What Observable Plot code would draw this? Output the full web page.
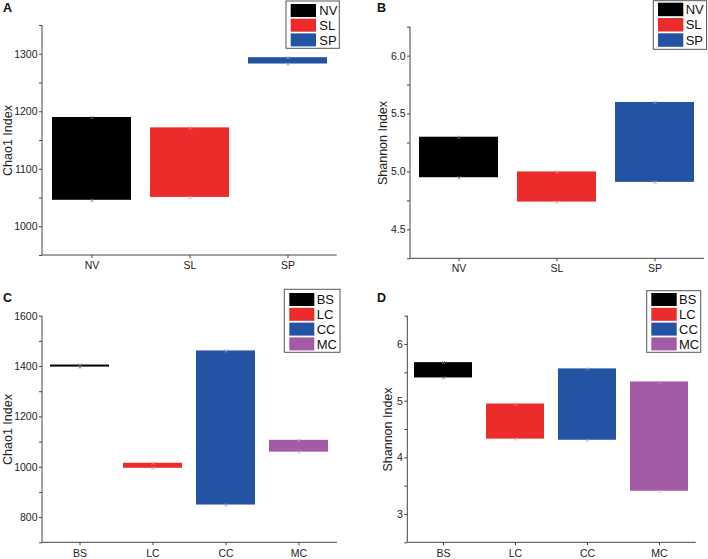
<!DOCTYPE html>
<html><head><meta charset="utf-8">
<script src="https://cdn.jsdelivr.net/npm/d3@7"></script>
<script src="https://cdn.jsdelivr.net/npm/@observablehq/plot@0.6"></script>
<style>
body{margin:0;background:#fff;font-family:"Liberation Sans",Arial,sans-serif;}
#wrap{position:relative;width:708px;height:559px;overflow:hidden;background:#fff;}
.panel{position:absolute;}
#tags{position:absolute;left:0;top:0;}
</style></head><body><div id="wrap"></div>
<script>
// ---- data ----
const groupsTop = ["NV", "SL", "SP"];
const colorsTop = ["#000000", "#ec2b2b", "#2553a3"];
const chaoTopLow = [1046, 1051, 1283];
const chaoTopHigh = [1190, 1172, 1294];
const shanTopLow = [4.95, 4.74, 4.91];
const shanTopHigh = [5.30, 5.00, 5.60];

const groupsBot = ["BS", "LC", "CC", "MC"];
const colorsBot = ["#000000", "#ec2b2b", "#2553a3", "#a35ba5"];
const chaoBotLow = [1398, 996, 850, 1060];
const chaoBotHigh = [1406, 1016, 1462, 1107];
const shanBotLow = [5.41, 4.33, 4.31, 3.41];
const shanBotHigh = [5.68, 4.95, 5.57, 5.34];

const ticksA = [1000, 1100, 1200, 1300];
const minorA = [950, 1050, 1150, 1250, 1350];
const ticksB = [4.5, 5.0, 5.5, 6.0];
const minorB = [4.25, 4.75, 5.25, 5.75, 6.25];
const ticksC = [800, 1000, 1200, 1400, 1600];
const minorC = [700, 900, 1100, 1300, 1500];
const ticksD = [3, 4, 5, 6];
const minorD = [2.5, 3.5, 4.5, 5.5, 6.5];

const titleChao = "Chao1 Index";
const titleShannon = "Shannon Index";
const panelTags = ["A", "B", "C", "D"];

const FONT = '"Liberation Sans", Arial, sans-serif';
const AXIS = "#444";

function panel(cfg) {
  const rows = cfg.groups.map((g, i) => ({g, lo: cfg.low[i], hi: cfg.high[i]}));
  const caps = rows.flatMap(r => [{g: r.g, v: r.lo}, {g: r.g, v: r.hi}]);
  const light = cfg.colors.map(c => d3.interpolateRgb(c, "#ffffff")(0.45));
  const chart = Plot.plot({
    width: 354, height: cfg.height,
    marginLeft: cfg.ml, marginRight: cfg.mr, marginTop: cfg.mt, marginBottom: cfg.mb,
    style: {fontFamily: FONT, background: "transparent", color: "#222", overflow: "visible"},
    x: {type: "band", domain: cfg.groups, paddingInner: 0.19, paddingOuter: 0.095, axis: null},
    y: {domain: cfg.domain, axis: null},
    color: {domain: cfg.groups, range: cfg.colors},
    marks: [
      Plot.barY(rows, {x: "g", y1: "lo", y2: "hi", fill: "g"}),
      Plot.dot(caps, {x: "g", y: "v", symbol: "times", r: 1.6, strokeWidth: 0.8,
        stroke: d => light[cfg.groups.indexOf(d.g)]}),
      Plot.axisY({ticks: cfg.ticks, tickFormat: cfg.fmt, tickSize: 3, tickPadding: 2,
        fontSize: 10.5, stroke: AXIS, label: null}),
      Plot.axisY({ticks: cfg.minor, tickSize: 3, text: null, stroke: AXIS, label: null}),
      Plot.axisX({tickSize: 3, tickPadding: cfg.xpad, fontSize: 10.5, stroke: AXIS, label: null}),
      Plot.text([cfg.title], {text: d => d, frameAnchor: "left", rotate: -90, dx: cfg.titleDx,
        fontSize: 12.5, textAnchor: "middle", lineAnchor: "middle", fill: "#222"})
    ]
  });
  const svg = d3.select(chart);
  const xr = chart.scale("x").range, yr = chart.scale("y").range;
  svg.append("line").attr("x1", xr[0]).attr("x2", xr[0]).attr("y1", yr[0]).attr("y2", yr[1])
    .attr("stroke", AXIS).attr("stroke-width", 1);
  svg.append("line").attr("x1", xr[0]).attr("x2", xr[1]).attr("y1", yr[0]).attr("y2", yr[0])
    .attr("stroke", AXIS).attr("stroke-width", 1);
  // legend
  const L = cfg.legend;
  const lg = svg.append("g").attr("text-anchor", "start");
  lg.append("rect").attr("x", L.x).attr("y", L.y).attr("width", L.w).attr("height", L.h)
    .attr("fill", "#fff").attr("stroke", "#555").attr("stroke-width", 1);
  cfg.groups.forEach((g, i) => {
    const top = L.row0 + i * L.step;
    lg.append("rect").attr("x", L.sx).attr("y", top).attr("width", L.sw).attr("height", L.sh)
      .attr("fill", cfg.colors[i]);
    lg.append("text").attr("x", L.tx).attr("y", top + L.sh / 2).attr("dy", "0.36em")
      .attr("text-anchor", "start")
      .attr("font-size", 13).attr("font-family", FONT).attr("fill", "#111").text(g);
  });
  const holder = document.createElement("div");
  holder.className = "panel";
  holder.style.left = cfg.left + "px";
  holder.style.top = cfg.top + "px";
  holder.appendChild(chart);
  document.getElementById("wrap").appendChild(holder);
}

panel({left: 0, top: 0, height: 279, ml: 42, mr: 17.3, mt: 25, mb: 24, xpad: 3,
  groups: groupsTop, colors: colorsTop, low: chaoTopLow, high: chaoTopHigh,
  domain: [950, 1350], ticks: ticksA, minor: minorA, fmt: d3.format("d"),
  title: titleChao, titleDx: -35,
  legend: {x: 286, y: 1, w: 53.3, h: 47.3, row0: 4, step: 14.7, sx: 290.7, sw: 25.3, sh: 13, tx: 319.3}});

panel({left: 354, top: 0, height: 279, ml: 56, mr: 4, mt: 26.7, mb: 20.7, xpad: 3,
  groups: groupsTop, colors: colorsTop, low: shanTopLow, high: shanTopHigh,
  domain: [4.25, 6.25], ticks: ticksB, minor: minorB, fmt: d3.format(".1f"),
  title: titleShannon, titleDx: -28,
  legend: {x: 299.3, y: 0.7, w: 53.3, h: 48.6, row0: 2.7, step: 15.3, sx: 304, sw: 25.3, sh: 13.5, tx: 331.7}});

panel({left: 0, top: 279, height: 280, ml: 42, mr: 17, mt: 36.7, mb: 16.7, xpad: 4,
  groups: groupsBot, colors: colorsBot, low: chaoBotLow, high: chaoBotHigh,
  domain: [700, 1600], ticks: ticksC, minor: minorC, fmt: d3.format("d"),
  title: titleChao, titleDx: -35,
  legend: {x: 284.3, y: 10.3, w: 55.7, h: 63, row0: 14, step: 14.8, sx: 289.3, sw: 25, sh: 13, tx: 316.7}});

panel({left: 354, top: 279, height: 280, ml: 53.3, mr: 12.3, mt: 36.7, mb: 16.7, xpad: 4,
  groups: groupsBot, colors: colorsBot, low: shanBotLow, high: shanBotHigh,
  domain: [2.5, 6.5], ticks: ticksD, minor: minorD, fmt: d3.format("d"),
  title: titleShannon, titleDx: -20,
  legend: {x: 292.7, y: 11.7, w: 54, h: 61.6, row0: 14, step: 14.8, sx: 297.3, sw: 25.4, sh: 13, tx: 325}});

// panel tags
const tagPos = [[3, 12], [377, 12], [3, 302], [377, 302]];
const tags = d3.select("#wrap").append("svg").attr("id", "tags").attr("width", 708).attr("height", 559)
  .style("pointer-events", "none");
panelTags.forEach((t, i) => {
  tags.append("text").attr("x", tagPos[i][0]).attr("y", tagPos[i][1]).attr("font-size", 12.5)
    .attr("font-weight", "bold").attr("font-family", FONT).attr("fill", "#111").text(t);
});
</script></body></html>
